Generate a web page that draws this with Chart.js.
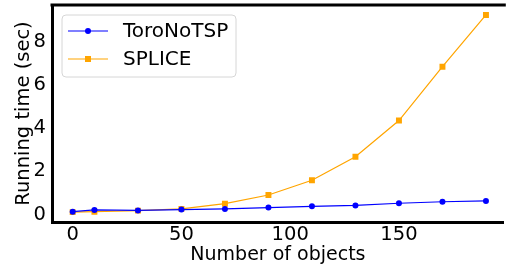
<!DOCTYPE html>
<html>
<head>
<meta charset="utf-8">
<script src="https://cdn.jsdelivr.net/npm/chart.js@4"></script>
<style>
html,body{margin:0;padding:0;background:#fff;}
#wrap{width:508px;height:270px;position:relative;}
</style>
</head>
<body>
<div id="wrap"><canvas id="c" width="508" height="270"></canvas></div>
<script>
const objects = [0, 10, 30, 50, 70, 90, 110, 130, 150, 170, 190];
const toroNoTSP = [0.02, 0.1, 0.08, 0.12, 0.15, 0.21, 0.27, 0.31, 0.41, 0.48, 0.52];
const splice = [0.0, 0.02, 0.07, 0.15, 0.39, 0.79, 1.47, 2.56, 4.23, 6.72, 9.11];
const xTicks = [0, 50, 100, 150];
const yTicks = [0, 2, 4, 6, 8];
const seriesNames = ['ToroNoTSP', 'SPLICE'];

const FONT = 'DejaVu Sans';

function shiftLabels(s, dy) {
  if (s._shifted) return;
  s._shifted = true;
  const orig = Object.getPrototypeOf(s).drawLabels;
  s.drawLabels = function (area) {
    this.ctx.save();
    this.ctx.translate(0, dy);
    orig.call(this, area);
    this.ctx.restore();
  };
}

const frame = {
  id: 'frame',
  afterDatasetsDraw(chart) {
    const a = chart.chartArea, ctx = chart.ctx;
    ctx.save();
    ctx.strokeStyle = '#000';
    ctx.lineWidth = 3;
    ctx.beginPath();
    ctx.moveTo(a.left - 1.5, a.top);
    ctx.lineTo(a.right + 2, a.top);
    ctx.stroke();
    ctx.restore();
  },
  afterDraw(chart) {
    const ctx = chart.ctx;
    const x0 = 62, y0 = 15, w = 174, h = 62, r = 4;
    ctx.save();
    ctx.beginPath();
    ctx.moveTo(x0 + r, y0);
    ctx.arcTo(x0 + w, y0, x0 + w, y0 + h, r);
    ctx.arcTo(x0 + w, y0 + h, x0, y0 + h, r);
    ctx.arcTo(x0, y0 + h, x0, y0, r);
    ctx.arcTo(x0, y0, x0 + w, y0, r);
    ctx.closePath();
    ctx.fillStyle = 'rgba(255,255,255,0.85)';
    ctx.fill();
    ctx.strokeStyle = '#d6d6d6';
    ctx.lineWidth = 1;
    ctx.stroke();
    const rows = [31, 59];
    chart.data.datasets.forEach((ds, i) => {
      const y = rows[i];
      ctx.strokeStyle = ds.borderColor;
      ctx.lineWidth = 1.2;
      ctx.beginPath();
      ctx.moveTo(68, y);
      ctx.lineTo(108, y);
      ctx.stroke();
      ctx.fillStyle = ds.backgroundColor;
      if (ds.pointStyle === 'rect') {
        ctx.fillRect(85, y - 3, 6, 6);
      } else {
        ctx.beginPath();
        ctx.arc(88, y, 3, 0, Math.PI * 2);
        ctx.fill();
      }
      ctx.fillStyle = '#000';
      ctx.font = '20px "' + FONT + '"';
      ctx.textBaseline = 'middle';
      ctx.textAlign = 'left';
      ctx.fillText(ds.label, 123, y + 1);
    });
    ctx.restore();
  }
};

new Chart(document.getElementById('c'), {
  type: 'line',
  data: {
    datasets: [
      {
        label: seriesNames[0],
        data: objects.map((x, i) => ({x: x, y: toroNoTSP[i]})),
        borderColor: '#0000ff',
        backgroundColor: '#0000ff',
        borderWidth: 1.2,
        pointStyle: 'circle',
        pointRadius: 3,
        pointBorderWidth: 0
      },
      {
        label: seriesNames[1],
        data: objects.map((x, i) => ({x: x, y: splice[i]})),
        borderColor: '#ffa500',
        backgroundColor: '#ffa500',
        borderWidth: 1.2,
        pointStyle: 'rect',
        pointRadius: 4.2,
        pointBorderWidth: 0
      }
    ]
  },
  options: {
    responsive: false,
    animation: false,
    layout: {padding: {top: 5, right: 0, left: 0, bottom: 0}},
    plugins: {legend: {display: false}, tooltip: {enabled: false}},
    scales: {
      x: {
        type: 'linear',
        min: -9.5,
        max: 198.2,
        afterBuildTicks: s => { s.ticks = xTicks.map(v => ({value: v})); },
        afterFit: s => { s.height = 48; s.paddingLeft = 0; s.paddingRight = 0; shiftLabels(s, -3); },
        grid: {display: false, drawTicks: false},
        border: {display: true, color: '#000', width: 3},
        ticks: {color: '#000', font: {family: FONT, size: 19.5}, padding: 4, maxRotation: 0},
        title: {display: true, text: 'Number of objects', color: '#000', font: {family: FONT, size: 19}, padding: {top: 0, bottom: 4}}
      },
      y: {
        type: 'linear',
        min: -0.456,
        max: 9.57,
        afterBuildTicks: s => { s.ticks = yTicks.map(v => ({value: v})); },
        afterFit: s => { s.width = 52; s.paddingTop = 0; s.paddingBottom = 0; shiftLabels(s, 2.5); },
        grid: {display: false, drawTicks: false},
        border: {display: true, color: '#000', width: 3},
        ticks: {color: '#000', font: {family: FONT, size: 19.5}, padding: 6},
        title: {display: true, text: 'Running time (sec)', color: '#000', font: {family: FONT, size: 19.5}, padding: {top: 12, bottom: 0}}
      }
    }
  },
  plugins: [frame]
});
</script>
</body>
</html>
